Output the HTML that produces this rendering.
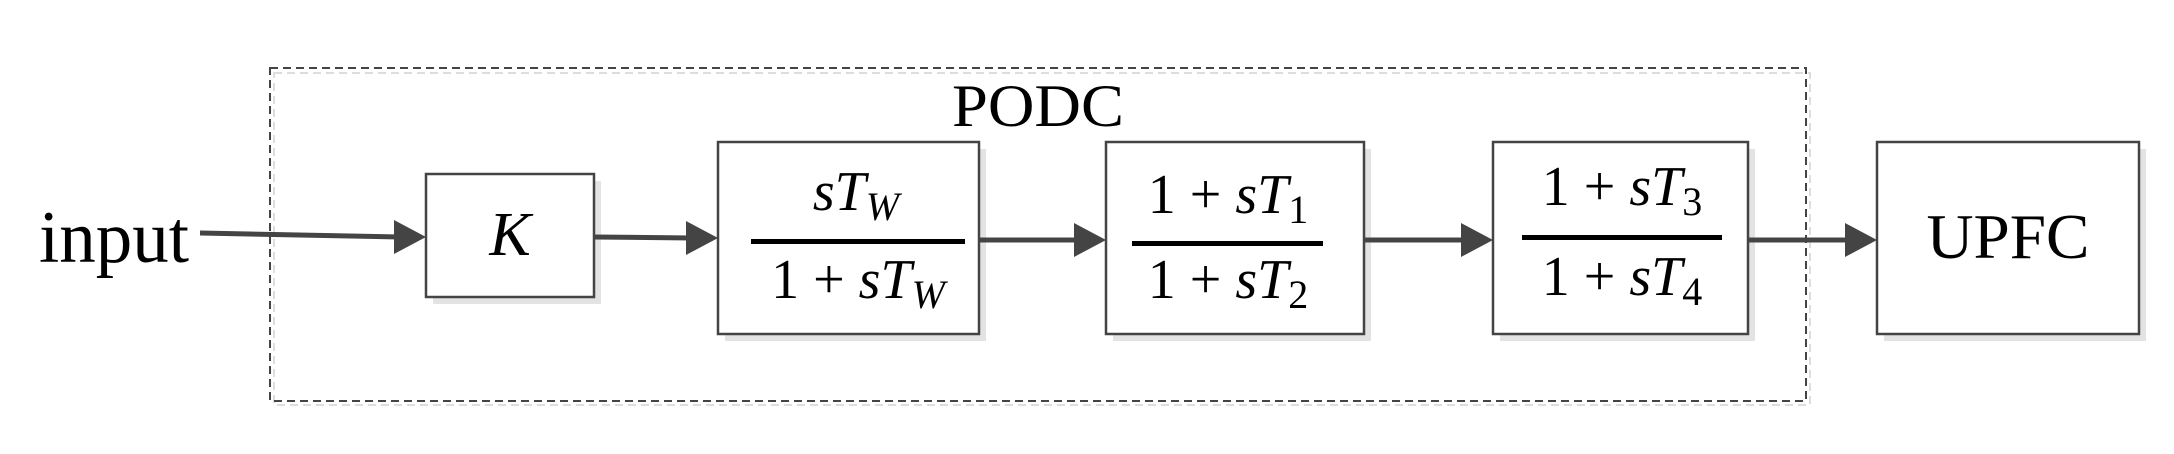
<!DOCTYPE html>
<html><head><meta charset="utf-8"><style>html,body{margin:0;padding:0;background:#fff}svg{display:block}</style></head>
<body>
<svg width="2174" height="454" viewBox="0 0 2174 454" xmlns="http://www.w3.org/2000/svg" font-family="Liberation Serif, serif">
<defs>
<marker id="a" markerWidth="10" markerHeight="10" refX="9" refY="5" orient="auto" markerUnits="userSpaceOnUse" viewBox="0 0 10 10" preserveAspectRatio="none">
</marker>
</defs>
<!-- dashed container -->
<rect x="274" y="73" width="1536" height="332" fill="none" stroke="#ddd" stroke-width="2" stroke-dasharray="8,5"/>
<rect x="270" y="68" width="1536" height="333" fill="none" stroke="#444" stroke-width="2" stroke-dasharray="8,5"/>
<text x="1038" y="126" font-size="60" text-anchor="middle" textLength="172" lengthAdjust="spacingAndGlyphs">PODC</text>

<!-- shadows -->
<g fill="#e3e3e3">
<rect x="433" y="181" width="168" height="123"/>
<rect x="725" y="149" width="261" height="192"/>
<rect x="1113" y="149" width="258" height="192"/>
<rect x="1500" y="149" width="255" height="192"/>
<rect x="1884" y="149" width="262" height="192"/>
</g>
<!-- boxes -->
<g fill="#fff" stroke="#444" stroke-width="2.5">
<rect x="426" y="174" width="168" height="123"/>
<rect x="718" y="142" width="261" height="192"/>
<rect x="1106" y="142" width="258" height="192"/>
<rect x="1493" y="142" width="255" height="192"/>
<rect x="1877" y="142" width="262" height="192"/>
</g>

<!-- connectors -->
<g stroke="#444" stroke-width="5" fill="none">
<line x1="200" y1="233" x2="400" y2="237"/>
<line x1="594" y1="237" x2="692" y2="238"/>
<line x1="979" y1="240" x2="1080" y2="240"/>
<line x1="1364" y1="240" x2="1467" y2="240"/>
<line x1="1748" y1="240" x2="1851" y2="240"/>
</g>
<g fill="#444">
<polygon points="394,220 426,237 394,254"/>
<polygon points="686,221 718,238 686,255"/>
<polygon points="1074,223 1106,240 1074,257"/>
<polygon points="1461,223 1493,240 1461,257"/>
<polygon points="1845,223 1877,240 1845,257"/>
</g>

<!-- labels -->
<text x="39" y="262" font-size="74" textLength="150" lengthAdjust="spacingAndGlyphs">input</text>
<text x="510" y="255" font-size="62" font-style="italic" text-anchor="middle">K</text>
<text x="2008" y="258" font-size="64" text-anchor="middle" textLength="163" lengthAdjust="spacingAndGlyphs">UPFC</text>

<!-- fraction 1 -->
<text x="856" y="210" font-size="56" text-anchor="middle" font-style="italic">sT<tspan font-size="40" dy="10">W</tspan></text>
<rect x="751" y="239" width="214" height="5" fill="#000"/>
<text x="858" y="298" font-size="56" text-anchor="middle"><tspan>1 + </tspan><tspan font-style="italic">sT</tspan><tspan font-style="italic" font-size="40" dy="10">W</tspan></text>

<!-- fraction 2 -->
<text x="1228" y="213" font-size="56" text-anchor="middle"><tspan>1 + </tspan><tspan font-style="italic">sT</tspan><tspan font-size="40" dy="10">1</tspan></text>
<rect x="1132" y="241" width="191" height="5" fill="#000"/>
<text x="1228" y="298" font-size="56" text-anchor="middle"><tspan>1 + </tspan><tspan font-style="italic">sT</tspan><tspan font-size="40" dy="10">2</tspan></text>

<!-- fraction 3 -->
<text x="1622" y="205" font-size="56" text-anchor="middle"><tspan>1 + </tspan><tspan font-style="italic">sT</tspan><tspan font-size="40" dy="10">3</tspan></text>
<rect x="1522" y="235" width="200" height="5" fill="#000"/>
<text x="1622" y="295" font-size="56" text-anchor="middle"><tspan>1 + </tspan><tspan font-style="italic">sT</tspan><tspan font-size="40" dy="10">4</tspan></text>
</svg>
</body></html>
